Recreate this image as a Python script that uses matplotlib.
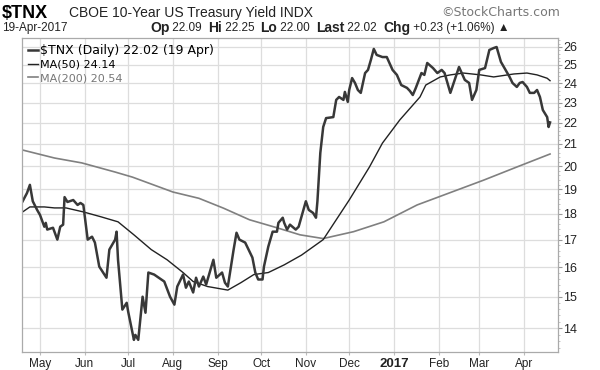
import matplotlib
matplotlib.use("Agg")
import matplotlib.pyplot as plt
import matplotlib.ticker as mticker
import pandas as pd

# $TNX daily close
price_dates = [
    "2016-04-19", "2016-04-22", "2016-04-24", "2016-04-26", "2016-04-29", "2016-05-01",
    "2016-05-04", "2016-05-05", "2016-05-06", "2016-05-10", "2016-05-13", "2016-05-15",
    "2016-05-17", "2016-05-18", "2016-05-20", "2016-05-24", "2016-05-27", "2016-05-29",
    "2016-05-31", "2016-06-01", "2016-06-03", "2016-06-06", "2016-06-08", "2016-06-11",
    "2016-06-16", "2016-06-18", "2016-06-22", "2016-06-23", "2016-06-24", "2016-06-27",
    "2016-06-30", "2016-07-01", "2016-07-05", "2016-07-06", "2016-07-08", "2016-07-11",
    "2016-07-13", "2016-07-15", "2016-07-19", "2016-07-21", "2016-07-26", "2016-07-30",
    "2016-08-02", "2016-08-04", "2016-08-08", "2016-08-10", "2016-08-12", "2016-08-15",
    "2016-08-17", "2016-08-19", "2016-08-22", "2016-08-24", "2016-08-29", "2016-08-31",
    "2016-09-04", "2016-09-06", "2016-09-08", "2016-09-12", "2016-09-14", "2016-09-16",
    "2016-09-20", "2016-09-25", "2016-09-27", "2016-09-29", "2016-10-02", "2016-10-03",
    "2016-10-06", "2016-10-09", "2016-10-12", "2016-10-13", "2016-10-16", "2016-10-17",
    "2016-10-19", "2016-10-21", "2016-10-25", "2016-10-27", "2016-11-01", "2016-11-03",
    "2016-11-06", "2016-11-08", "2016-11-09", "2016-11-11", "2016-11-13", "2016-11-15",
    "2016-11-20", "2016-11-22", "2016-11-24", "2016-11-27", "2016-11-28", "2016-11-30",
    "2016-12-01", "2016-12-03", "2016-12-05", "2016-12-07", "2016-12-09", "2016-12-12",
    "2016-12-14", "2016-12-16", "2016-12-18", "2016-12-20", "2016-12-24", "2016-12-27",
    "2016-12-31", "2017-01-03", "2017-01-06", "2017-01-10", "2017-01-12", "2017-01-14",
    "2017-01-16", "2017-01-20", "2017-01-22", "2017-01-24", "2017-01-28", "2017-01-31",
    "2017-02-03", "2017-02-05", "2017-02-09", "2017-02-12", "2017-02-15", "2017-02-19",
    "2017-02-22", "2017-02-24", "2017-02-27", "2017-03-01", "2017-03-05", "2017-03-08",
    "2017-03-11", "2017-03-13", "2017-03-16", "2017-03-18", "2017-03-22", "2017-03-24",
    "2017-03-27", "2017-03-29", "2017-03-31", "2017-04-03", "2017-04-05", "2017-04-08",
    "2017-04-10", "2017-04-12", "2017-04-14", "2017-04-17", "2017-04-18", "2017-04-19",
]
price_vals = [
    18.51, 18.85, 19.19, 18.51, 18.16, 17.96,
    17.50, 17.65, 17.39, 17.46, 17.01, 17.50,
    17.58, 18.68, 18.48, 18.56, 18.36, 18.44,
    18.36, 17.89, 17.01, 17.12, 16.90, 16.03,
    15.64, 16.64, 17.01, 17.31, 16.27, 14.58,
    14.80, 14.52, 13.64, 13.79, 13.64, 15.00,
    14.48, 15.82, 15.75, 15.68, 15.51, 15.00,
    14.74, 15.34, 15.75, 15.30, 15.51, 15.14,
    15.64, 15.34, 15.68, 15.41, 16.27, 15.64,
    15.82, 15.47, 15.34, 16.64, 17.27, 17.01,
    16.90, 16.35, 15.82, 15.58, 15.58, 16.03,
    16.75, 17.31, 17.31, 17.65, 17.85, 17.65,
    17.39, 17.58, 17.39, 17.50, 18.51, 18.16,
    18.04, 17.85, 18.51, 20.59, 21.80, 22.23,
    22.28, 23.14, 23.29, 23.14, 23.55, 23.04,
    23.65, 24.28, 24.02, 23.65, 23.50, 24.55,
    24.72, 25.27, 25.89, 25.55, 25.43, 25.43,
    24.72, 24.45, 23.91, 23.76, 23.60, 23.39,
    23.74, 24.55, 24.45, 25.10, 24.82, 24.55,
    24.72, 24.55, 23.50, 24.18, 24.88, 24.18,
    24.02, 23.14, 23.65, 24.72, 24.82, 25.83,
    25.94, 26.00, 25.16, 24.88, 24.34, 24.02,
    23.81, 24.02, 24.07, 23.81, 23.50, 23.50,
    23.65, 23.29, 22.63, 22.28, 21.80, 22.02,
]

ma50_dates = [
    "2016-04-19", "2016-04-24", "2016-05-04", "2016-05-11", "2016-05-19", "2016-05-31",
    "2016-06-12", "2016-06-24", "2016-07-05", "2016-07-17", "2016-07-28", "2016-08-08",
    "2016-08-15", "2016-08-25", "2016-09-08", "2016-09-17", "2016-09-26", "2016-10-06",
    "2016-10-17", "2016-10-29", "2016-11-13", "2016-12-01", "2016-12-15", "2016-12-24",
    "2017-01-05", "2017-01-19", "2017-01-23", "2017-02-02", "2017-02-09", "2017-02-18",
    "2017-03-02", "2017-03-11", "2017-03-25", "2017-04-03", "2017-04-10", "2017-04-17",
    "2017-04-19",
]
ma50_vals = [
    18.08, 18.28, 18.28, 18.24, 18.24, 18.08,
    17.89, 17.69, 17.19, 16.64, 16.27, 15.82,
    15.51, 15.34, 15.22, 15.47, 15.75, 15.82,
    16.09, 16.44, 17.01, 18.56, 19.96, 21.04,
    22.14, 23.29, 23.91, 24.34, 24.45, 24.55,
    24.45, 24.34, 24.50, 24.55, 24.45, 24.27,
    24.14,
]

ma200_dates = [
    "2016-04-19", "2016-05-11", "2016-05-30", "2016-06-22", "2016-07-04", "2016-08-01",
    "2016-08-19", "2016-09-05", "2016-09-23", "2016-10-12", "2016-10-28", "2016-11-13",
    "2016-12-04", "2016-12-25", "2017-01-17", "2017-02-10", "2017-03-04", "2017-03-27",
    "2017-04-19",
]
ma200_vals = [
    20.72, 20.36, 20.14, 19.74, 19.52, 18.89,
    18.63, 18.23, 17.77, 17.46, 17.19, 17.05,
    17.31, 17.69, 18.36, 18.89, 19.39, 19.96,
    20.54,
]

month_ticks = ["2016-05-01", "2016-06-01", "2016-07-01", "2016-08-01", "2016-09-01",
               "2016-10-01", "2016-11-01", "2016-12-01", "2017-01-01", "2017-02-01",
               "2017-03-01", "2017-04-01"]
month_labels = ["May", "Jun", "Jul", "Aug", "Sep", "Oct", "Nov", "Dec", "2017",
                "Feb", "Mar", "Apr"]
y_ticks = [14, 15, 16, 17, 18, 19, 20, 21, 22, 23, 24, 25, 26]

fig = plt.figure(figsize=(6, 3.7), dpi=100)
ax = fig.add_axes([22 / 600, 1 - 352 / 370, 536 / 600, 314 / 370])

ax.plot(pd.to_datetime(ma200_dates), ma200_vals, color="#808080", lw=1.2, label="MA(200) 20.54")
ax.plot(pd.to_datetime(ma50_dates), ma50_vals, color="#222222", lw=1.0, label="MA(50) 24.14")
ax.plot(pd.to_datetime(price_dates), price_vals, color="#383838", lw=1.8,
        solid_joinstyle="round", label="$TNX (Daily) 22.02 (19 Apr)")

ax.set_yscale("log")
ax.set_ylim(13.28, 26.52)
ax.set_xlim(pd.Timestamp("2016-04-18 13:00"), pd.Timestamp("2017-04-24 12:00"))

ax.yaxis.tick_right()
ax.yaxis.set_major_locator(mticker.FixedLocator(y_ticks))
ax.yaxis.set_major_formatter(mticker.FixedFormatter([str(v) for v in y_ticks]))
ax.yaxis.set_minor_locator(mticker.FixedLocator([v / 5 for v in range(66, 133)]))
ax.yaxis.set_minor_formatter(mticker.NullFormatter())
ax.tick_params(axis="y", which="major", length=3, width=0.8, color="#999999",
               labelsize=9, labelcolor="#222222", pad=1)
ax.tick_params(axis="y", which="minor", length=1.5, width=0.6, color="#bbbbbb")
for lab in ax.get_yticklabels():
    lab.set_family("Liberation Sans")

ax.set_xticks(pd.to_datetime(month_ticks))
ax.set_xticklabels(month_labels)
ax.xaxis.set_minor_locator(mticker.NullLocator())
ax.tick_params(axis="x", length=2, color="#bbbbbb", labelsize=8.5, labelcolor="#222222", pad=2)
for lab in ax.get_xticklabels():
    lab.set_family("Liberation Sans")
    if lab.get_text() == "2017":
        lab.set_fontweight("bold")
        lab.set_fontsize(9.5)

ax.grid(True, which="major", color="#dddddd", lw=0.9)
ax.set_axisbelow(True)
for s in ax.spines.values():
    s.set_color("#aaaaaa")
    s.set_linewidth(0.9)

h, l = ax.get_legend_handles_labels()
leg = ax.legend(h[::-1], l[::-1], loc="upper left", frameon=False,
                handlelength=0.9, handletextpad=0.25, labelspacing=0.3,
                borderaxespad=0.3, borderpad=0.2, prop={"family": "DejaVu Sans", "size": 8})
texts = leg.get_texts()
texts[0].set_fontsize(9)
texts[2].set_color("#777777")

# header
fig.text(2 / 600, 1 - 13 / 370, "$TNX", fontsize=13, fontweight="bold",
         family="Liberation Sans", va="center", ha="left")
fig.text(69 / 600, 1 - 13 / 370, "CBOE 10-Year US Treasury Yield INDX", fontsize=10,
         family="Liberation Sans", va="center", ha="left", color="#222222")
fig.text(560 / 600, 1 - 13 / 370, "\u00a9StockCharts.com", fontsize=9,
         family="DejaVu Sans", va="center", ha="right", color="#777777")
fig.text(2 / 600, 1 - 28 / 370, "19-Apr-2017", fontsize=8.5,
         family="Liberation Sans", va="center", ha="left", color="#222222")

pieces = [("Op", "bold"), (" 22.09", "normal"), ("Hi", "bold"), (" 22.25", "normal"),
          ("Lo", "bold"), (" 22.00", "normal"), ("Last", "bold"), (" 22.02", "normal"),
          ("Chg", "bold"), (" +0.23 (+1.06%) \u25b2", "normal")]
renderer = fig.canvas.get_renderer()
xpos = 150
for txt, w in pieces:
    t = fig.text(xpos / 600, 1 - 28 / 370, txt, fontsize=10 if w == "bold" else 8.5,
                 fontweight=w, family=["Liberation Sans", "DejaVu Sans"],
                 va="center", ha="left", color="#222222")
    bb = t.get_window_extent(renderer)
    xpos += bb.width + (6 if w == "normal" else 0)

fig.savefig("out.png", dpi=100)
